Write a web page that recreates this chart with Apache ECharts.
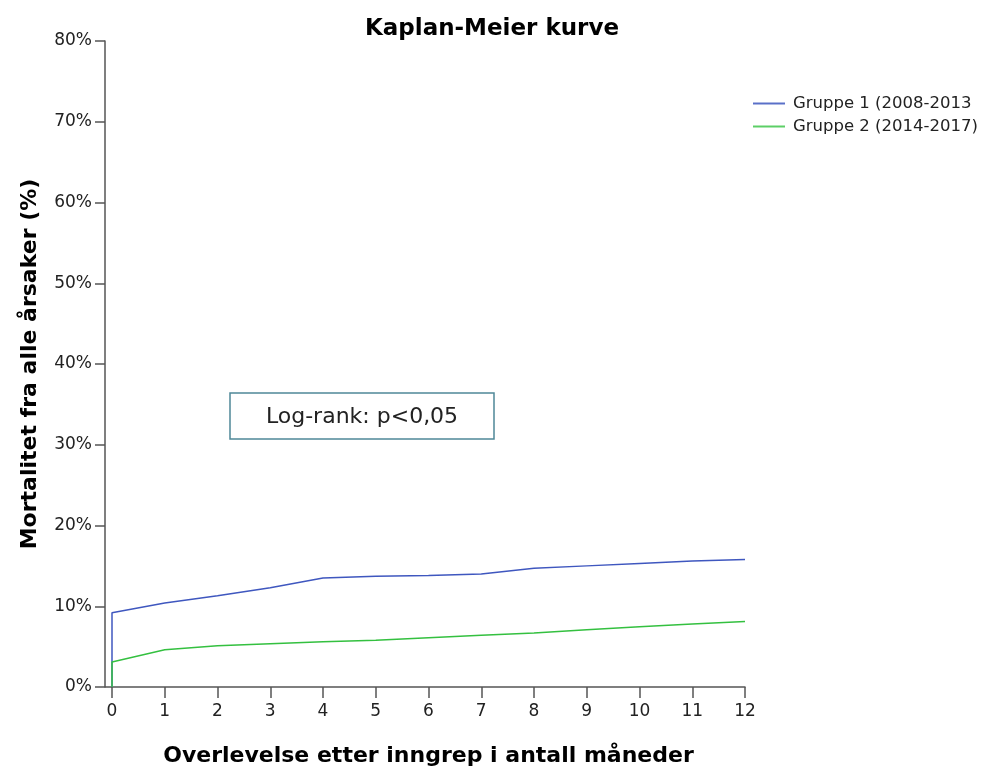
<!DOCTYPE html>
<html>
<head>
<meta charset="utf-8">
<script src="https://cdn.jsdelivr.net/npm/echarts@6/dist/echarts.min.js"></script>
<style>
html,body{margin:0;padding:0;background:#fff;}
#chart{width:984px;height:772px;}
</style>
</head>
<body>
<div id="chart"></div>
<script>
// Data
var months = [0, 0, 1, 2, 3, 4, 5, 6, 7, 8, 9, 10, 11, 12];
var gruppe1 = [0, 9.2, 10.4, 11.3, 12.3, 13.5, 13.7, 13.8, 14.0, 14.7, 15.0, 15.3, 15.6, 15.8];
var gruppe2 = [0, 3.1, 4.6, 5.1, 5.35, 5.6, 5.8, 6.1, 6.4, 6.7, 7.1, 7.45, 7.8, 8.1];
var seriesNames = ['Gruppe 1 (2008-2013', 'Gruppe 2 (2014-2017)'];
var titleText = 'Kaplan-Meier kurve';
var xName = 'Overlevelse etter inngrep i antall måneder';
var yName = 'Mortalitet fra alle årsaker (%)';
var annotation = 'Log-rank: p<0,05';

function pairs(xs, ys) { return xs.map(function (x, i) { return [x, ys[i]]; }); }

var font = 'DejaVu Sans, sans-serif';
var yOffset = 7;
var chart = echarts.init(document.getElementById('chart'));
chart.setOption({
  backgroundColor: '#ffffff',
  animation: false,
  title: {
    text: titleText, left: 'center', top: 13,
    textStyle: { fontFamily: font, fontSize: 23, fontWeight: 'bold', color: '#000' }
  },
  legend: {
    orient: 'vertical', left: 748, top: 90, itemWidth: 32, itemHeight: 2, itemGap: 6,
    icon: 'rect',
    textStyle: { fontFamily: font, fontSize: 16.5, color: '#222', padding: [0, 0, 0, 3] },
    data: seriesNames
  },
  grid: { left: 112, right: 239, top: 41, bottom: 81, containLabel: false },
  xAxis: {
    type: 'value', min: 0, max: 12, interval: 1,
    name: xName, nameLocation: 'middle', nameGap: 58,
    nameTextStyle: { fontFamily: font, fontSize: 22, fontWeight: 'bold', color: '#000' },
    axisLine: { show: true, onZero: false, lineStyle: { color: '#555', width: 1.5 } },
    axisTick: { show: true, length: 11, lineStyle: { color: '#555', width: 1.5 } },
    axisLabel: { fontFamily: font, fontSize: 17, color: '#222', margin: 16 },
    splitLine: { show: false }
  },
  yAxis: {
    type: 'value', min: 0, max: 80, interval: 10, offset: yOffset,
    name: yName, nameLocation: 'middle', nameGap: 64, nameRotate: 90,
    nameTextStyle: { fontFamily: font, fontSize: 22, fontWeight: 'bold', color: '#000' },
    axisLine: { show: true, onZero: false, lineStyle: { color: '#555', width: 1.5 } },
    axisTick: { show: true, length: 10, lineStyle: { color: '#555', width: 1.5 } },
    axisLabel: { fontFamily: font, fontSize: 17, color: '#222', margin: 13, formatter: '{value}%' },
    splitLine: { show: false }
  },
  series: [
    {
      name: seriesNames[0], type: 'line', data: pairs(months, gruppe1), symbol: 'none',
      lineStyle: { color: '#3f57bf', width: 1.5 }, itemStyle: { color: '#5a70c8' }
    },
    {
      name: seriesNames[1], type: 'line', data: pairs(months, gruppe2), symbol: 'none',
      lineStyle: { color: '#34c040', width: 1.5 }, itemStyle: { color: '#5ccf66' }
    }
  ]
});
// connect the offset y axis to the x axis line, and add the annotation box
var origin = chart.convertToPixel({ gridIndex: 0 }, [0, 0]);
chart.setOption({
  graphic: [
    {
      id: 'box', type: 'rect', shape: { x: 230, y: 393, width: 264, height: 46 },
      style: { fill: '#fff', stroke: '#4f8898', lineWidth: 1.5 }
    },
    {
      id: 'boxText', type: 'text', x: 362, y: 417,
      style: { text: annotation, fontFamily: font, fontSize: 22, fill: '#222', align: 'center', verticalAlign: 'middle' }
    },
    {
      id: 'stub', type: 'line', shape: { x1: origin[0] - yOffset, y1: origin[1], x2: origin[0], y2: origin[1] },
      style: { stroke: '#555', lineWidth: 1.5 }
    }
  ]
});
</script>
</body>
</html>
